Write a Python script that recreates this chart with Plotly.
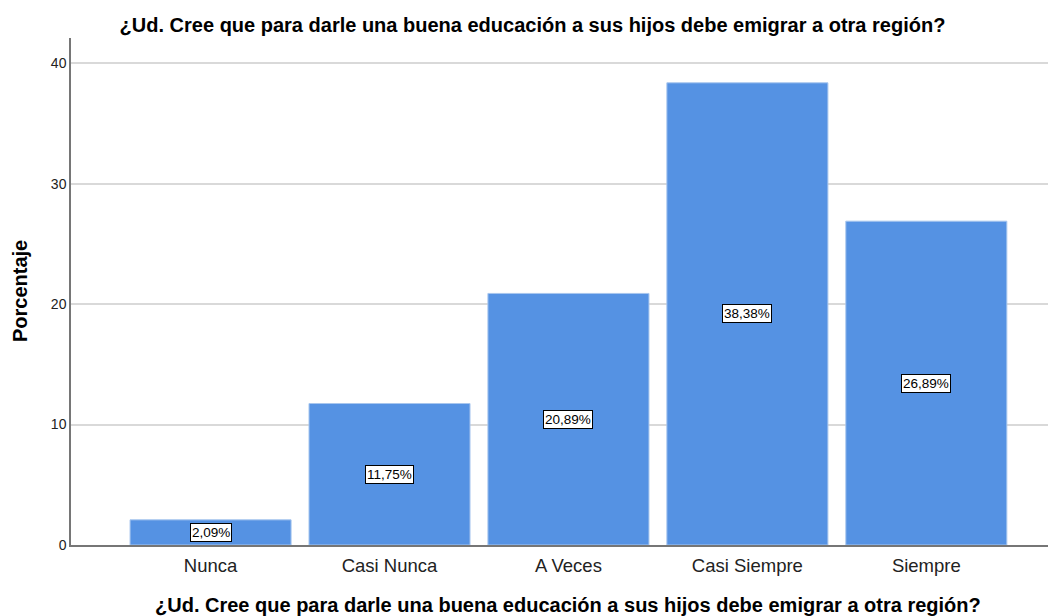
import plotly.graph_objects as go

categorias = ["Nunca", "Casi Nunca", "A Veces", "Casi Siempre", "Siempre"]
porcentajes = [2.09, 11.75, 20.89, 38.38, 26.89]
etiquetas = ["2,09%", "11,75%", "20,89%", "38,38%", "26,89%"]
ticks_y = [0, 10, 20, 30, 40]

pregunta = "¿Ud. Cree que para darle una buena educación a sus hijos debe emigrar a otra región?"
FUENTE = "Liberation Sans, Arial, sans-serif"

fig = go.Figure(
    go.Bar(
        x=categorias,
        y=porcentajes,
        marker=dict(color="#5592e3", line=dict(color="#a8c6ee", width=1)),
        width=0.9,
    )
)

# value boxes at the middle of each bar
for cat, val, txt in zip(categorias, porcentajes, etiquetas):
    fig.add_annotation(
        x=cat, y=val / 2, text=txt, showarrow=False,
        font=dict(family=FUENTE, size=13.5, color="black"),
        bgcolor="white", bordercolor="black", borderwidth=1, borderpad=1,
    )

fig.add_annotation(
    xref="paper", yref="paper", x=0.509, y=-(606 - 545.5) / 507.5,
    text="<b>" + pregunta + "</b>",
    showarrow=False, font=dict(family=FUENTE, size=20, color="black"),
    xanchor="center", yanchor="middle",
)
fig.add_annotation(
    xref="paper", yref="paper", x=-(70.5 - 19) / 977.5, y=0.5, text="<b>Porcentaje</b>",
    textangle=-90, showarrow=False, font=dict(family=FUENTE, size=20, color="black"),
    xanchor="center", yanchor="middle",
)

fig.update_layout(
    width=1052, height=616,
    margin=dict(l=70.5, r=4, t=38, b=70.5),
    paper_bgcolor="white", plot_bgcolor="white",
    showlegend=False,
    title=dict(
        text="<b>" + pregunta + "</b>", x=532.5 / 1052, xanchor="center",
        y=1 - 25 / 616, yanchor="middle",
        font=dict(family=FUENTE, size=20, color="black"),
    ),
    font=dict(family=FUENTE, color="black"),
)
fig.update_xaxes(
    type="category", range=[-0.78, 4.68],
    showline=True, linecolor="#767676", linewidth=1.5,
    showgrid=False, ticks="", ticklabelstandoff=3,
    tickfont=dict(size=18.5, color="#222"),
)
fig.update_yaxes(
    range=[0, 42.1], tickvals=ticks_y,
    showline=True, linecolor="#767676", linewidth=1.5,
    showgrid=True, gridcolor="#d9d9d9", gridwidth=1.5,
    zeroline=False, ticks="", ticklen=0, tickfont=dict(size=14, color="#222"),
)

fig.write_html("out.html")
